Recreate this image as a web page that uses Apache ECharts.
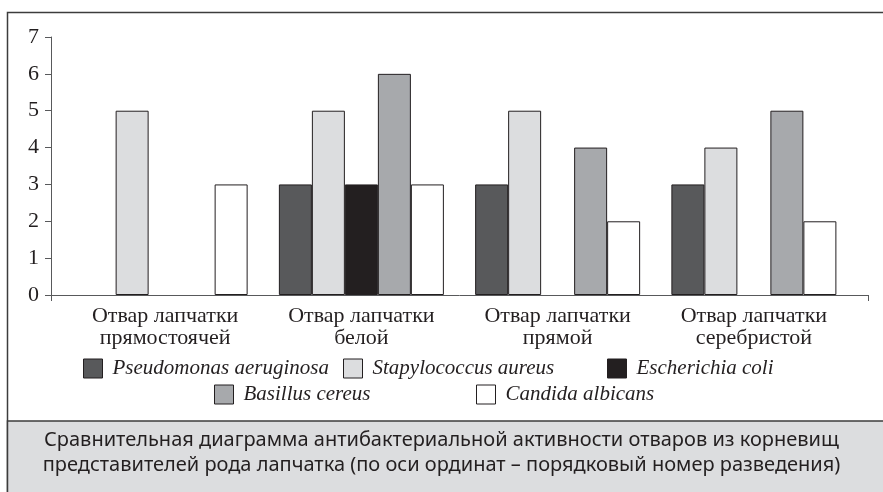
<!DOCTYPE html>
<html>
<head>
<meta charset="utf-8">
<script src="https://cdn.jsdelivr.net/npm/echarts@6/dist/echarts.min.js"></script>
<style>
  html, body { margin: 0; padding: 0; background: #fff; }
  #main { width: 883px; height: 492px; }
</style>
</head>
<body>
<div id="main"></div>
<script>
var categories = ['Отвар лапчатки\nпрямостоячей', 'Отвар лапчатки\nбелой', 'Отвар лапчатки\nпрямой', 'Отвар лапчатки\nсеребристой']
var seriesNames = ['Pseudomonas aeruginosa', 'Stapylococcus aureus', 'Escherichia coli', 'Basillus cereus', 'Candida albicans']
var pseudomonas = [null, 3, 3, 3]
var staphylococcus = [5, 5, 5, 4]
var escherichia = [null, 3, null, null]
var bacillus = [null, 6, 4, 5]
var candida = [3, 3, 2, 2]
var yTicks = [0, 1, 2, 3, 4, 5, 6, 7]
var captionLines = [
  'Сравнительная диаграмма антибактериальной активности отваров из корневищ',
  'представителей рода лапчатка (по оси ординат – порядковый номер разведения)'
]

var values = [pseudomonas, staphylococcus, escherichia, bacillus, candida]
var colors = ['#58595b', '#dcdddf', '#231f20', '#a7a9ac', '#ffffff']
var ink = '#231f20'
var serif = '"Liberation Serif", "DejaVu Serif", serif'

// legend spots, two rows like the original
var legendPos = [[83, 358], [343, 358], [607, 358], [214, 384], [476, 384]]

var chart = echarts.init(document.getElementById('main'))

var series = []
var legends = []
for (var i = 0; i < seriesNames.length; i++) {
  series.push({
    name: seriesNames[i],
    type: 'bar',
    xAxisIndex: 1,
    yAxisIndex: 1,
    data: values[i],
    barWidth: 33,
    barGap: '0%',
    itemStyle: { color: colors[i], borderColor: ink, borderWidth: 1 },
    emphasis: { disabled: true }
  })
  legends.push({
    data: [seriesNames[i]],
    left: legendPos[i][0],
    top: legendPos[i][1],
    padding: 0,
    itemWidth: 19,
    itemHeight: 19,
    icon: 'rect',
    itemStyle: { borderColor: ink, borderWidth: 1 },
    textStyle: { fontFamily: serif, fontStyle: 'italic', fontSize: 21, color: ink, padding: [0, 0, 0, 5] }
  })
}

var option = {
  animation: false,
  backgroundColor: '#fff',
  title: {
    text: captionLines.join('\n'),
    left: 'center',
    top: 428,
    padding: 0,
    textStyle: { fontFamily: '"Noto Sans", sans-serif', fontWeight: 'normal', fontSize: 20, lineHeight: 25, color: ink }
  },
  graphic: [
    { type: 'rect', z: -10, shape: { x: 7.5, y: 12.5, width: 900, height: 500 }, style: { fill: '#fff', stroke: '#3c3c3c', lineWidth: 1.5 } },
    { type: 'rect', z: -9, shape: { x: 7.5, y: 421, width: 900, height: 100 }, style: { fill: '#dcdddf', stroke: '#3c3c3c', lineWidth: 1.5 } }
  ],
  legend: legends,
  grid: [
    { left: 51, right: 15, top: 37, bottom: 197 },
    { left: 67, right: 31, top: 37, bottom: 197 }
  ],
  xAxis: [
    {
      gridIndex: 0,
      type: 'value',
      min: 0,
      max: 1,
      interval: 1,
      splitLine: { show: false },
      axisLabel: { show: false },
      axisLine: { show: true, lineStyle: { color: '#58595b', width: 1 } },
      axisTick: { show: true, length: 6, lineStyle: { color: '#58595b' } }
    },
    {
      gridIndex: 1,
      type: 'category',
      data: categories,
      axisLine: { show: false },
      axisTick: { show: false },
      axisLabel: { fontFamily: serif, fontSize: 22, lineHeight: 22, color: ink, margin: 10, interval: 0 }
    }
  ],
  yAxis: [
    {
      gridIndex: 0,
      type: 'value',
      min: yTicks[0],
      max: yTicks[yTicks.length - 1],
      interval: 1,
      splitLine: { show: false },
      axisLine: { show: true, lineStyle: { color: '#58595b', width: 1 } },
      axisTick: { show: true, length: 6, lineStyle: { color: '#58595b' } },
      axisLabel: { fontFamily: serif, fontSize: 22, color: ink, margin: 12 }
    },
    {
      gridIndex: 1,
      type: 'value',
      min: yTicks[0],
      max: yTicks[yTicks.length - 1],
      show: false
    }
  ],
  series: series
}

chart.setOption(option)
</script>
</body>
</html>
